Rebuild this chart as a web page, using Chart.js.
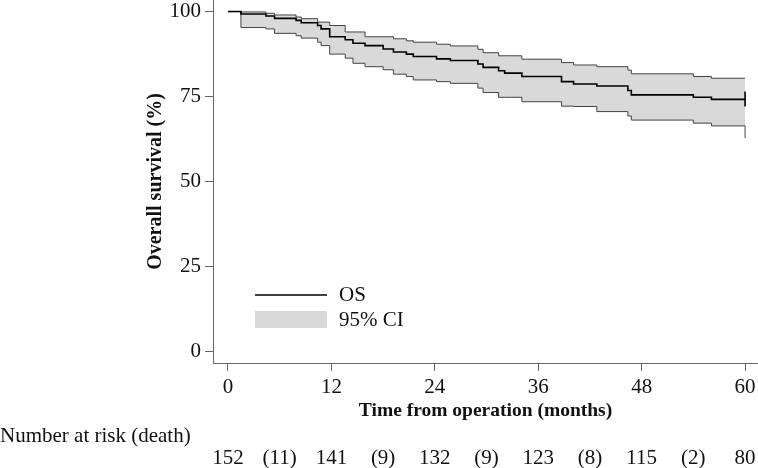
<!DOCTYPE html>
<html>
<head>
<meta charset="utf-8">
<script src="https://cdn.jsdelivr.net/npm/chart.js@4.4.1/dist/chart.umd.min.js"></script>
<style>
  html, body { margin: 0; padding: 0; background: #fff; }
  #wrap { width: 758px; height: 468px; }
</style>
</head>
<body>
<div id="wrap"><canvas id="km"></canvas></div>
<script>
// Kaplan-Meier steps (months, %)
const stepMonths = [0, 1.5, 4.4, 5.4, 7.9, 8.5, 10.4, 10.8, 11.8, 13.6, 14.5, 15.9, 18.0, 19.2, 20.7, 21.5, 24.2, 25.8, 29.0, 29.6, 31.4, 32.1, 34.1, 38.7, 40.1, 42.8, 46.4, 46.8, 54.0, 56.1, 60, 60, 60];
const survival   = [100, 99.3, 98.7, 98.0, 97.4, 96.7, 95.9, 94.9, 92.6, 91.7, 90.7, 90.0, 89.0, 88.1, 87.5, 86.8, 86.1, 85.6, 84.6, 83.6, 82.6, 81.9, 80.9, 79.4, 78.7, 78.1, 76.8, 75.5, 74.8, 74.2, 74.2, 76.5, 72.1];
const lowerCI    = [100, 95.3, 94.9, 93.6, 92.9, 92.2, 91.0, 90.0, 87.5, 86.3, 84.8, 83.8, 82.9, 81.6, 80.9, 79.9, 79.4, 78.9, 77.5, 76.2, 74.8, 74.8, 73.5, 72.2, 72.1, 70.6, 69.3, 68.1, 67.2, 66.4, 66.4, 66.4, 62.8];
const upperCI    = [100, 99.9, 99.5, 99.0, 98.4, 97.9, 96.9, 96.9, 95.9, 94.0, 94.0, 92.6, 92.6, 92.0, 91.4, 91.0, 90.4, 89.9, 88.9, 87.9, 87.0, 87.0, 86.0, 85.0, 84.3, 83.8, 82.8, 81.7, 80.9, 80.4, 80.4, 80.4, 80.4];

const xTicks = [0, 12, 24, 36, 48, 60];
const yTicks = [0, 25, 50, 75, 100];

// number at risk at each tick, deaths in between
const riskCounts = [152, 141, 132, 123, 115, 80];
const riskDeaths = [11, 9, 9, 8, 2];

const FONT = "'Liberation Serif', 'DejaVu Serif', serif";
const AXIS = '#666';

const toPoints = (ys) => stepMonths.map((m, i) => ({ x: m, y: ys[i] }));

// legend and number-at-risk table, drawn with the x scale
const extras = {
    id: 'extras',
    afterDraw(chart) {
        const { ctx, chartArea, scales } = chart;
        ctx.save();
        ctx.font = '21px ' + FONT;
        ctx.fillStyle = '#111';
        ctx.textBaseline = 'middle';

        // legend inside plot
        const lx = chartArea.left + 42;
        const ly = chartArea.top + 295;
        ctx.strokeStyle = '#000';
        ctx.lineWidth = 1.5;
        ctx.beginPath();
        ctx.moveTo(lx, ly);
        ctx.lineTo(lx + 72, ly);
        ctx.stroke();
        ctx.fillStyle = '#d9d9d9';
        ctx.fillRect(lx, ly + 16, 72, 17);
        ctx.fillStyle = '#111';
        ctx.textAlign = 'left';
        ctx.fillText('OS', lx + 84, ly);
        ctx.fillText('95% CI', lx + 84, ly + 25);

        // number at risk
        ctx.fillText('Number at risk (death)', 0, 436);
        ctx.textAlign = 'center';
        xTicks.forEach((m, i) => {
            ctx.fillText(String(riskCounts[i]), scales.x.getPixelForValue(m), 458);
            if (i < riskDeaths.length) {
                const mid = (m + xTicks[i + 1]) / 2;
                ctx.fillText('(' + riskDeaths[i] + ')', scales.x.getPixelForValue(mid), 458);
            }
        });
        ctx.restore();
    }
};

new Chart(document.getElementById('km'), {
    type: 'line',
    data: {
        datasets: [
            { label: 'Upper', data: toPoints(upperCI), stepped: true, borderColor: '#444', borderWidth: 1, pointRadius: 0, fill: '+1', backgroundColor: '#d9d9d9', order: 2 },
            { label: 'Lower', data: toPoints(lowerCI), stepped: true, borderColor: '#444', borderWidth: 1, pointRadius: 0, fill: false, order: 1 },
            { label: 'OS', data: toPoints(survival), stepped: true, borderColor: '#000', borderWidth: 1.6, pointRadius: 0, fill: false, order: 0 }
        ]
    },
    options: {
        responsive: true,
        maintainAspectRatio: false,
        animation: false,
        layout: { padding: { left: 140, right: 0, top: 0, bottom: 45 } },
        plugins: { legend: { display: false }, tooltip: { enabled: false } },
        scales: {
            x: {
                type: 'linear',
                min: -1.74,
                max: 61.5,
                afterBuildTicks: (s) => { s.ticks = xTicks.map(v => ({ value: v })); },
                afterFit: (s) => { s.height = 60; s.paddingLeft = 0; s.paddingRight = 0; },
                border: { display: true, color: AXIS, width: 1 },
                grid: { drawOnChartArea: false, drawTicks: true, tickLength: 8, color: AXIS },
                ticks: { color: '#111', padding: 4, maxRotation: 0, font: { family: FONT, size: 21 } },
                title: { display: true, text: 'Time from operation (months)', color: '#111', padding: { top: 0, bottom: 0 }, font: { family: FONT, size: 19.5, weight: 'bold' } }
            },
            y: {
                min: -3.3,
                max: 103.4,
                afterBuildTicks: (s) => { s.ticks = yTicks.map(v => ({ value: v })); },
                afterFit: (s) => { s.width = 73; s.paddingTop = 0; s.paddingBottom = 0; },
                border: { display: true, color: AXIS, width: 1 },
                grid: { drawOnChartArea: false, drawTicks: true, tickLength: 8, color: AXIS },
                ticks: { color: '#111', padding: 4, font: { family: FONT, size: 21 } },
                title: { display: true, text: 'Overall survival (%)', color: '#111', padding: { top: 4, bottom: 0 }, font: { family: FONT, size: 20, weight: 'bold' } }
            }
        }
    },
    plugins: [extras]
});
</script>
</body>
</html>
